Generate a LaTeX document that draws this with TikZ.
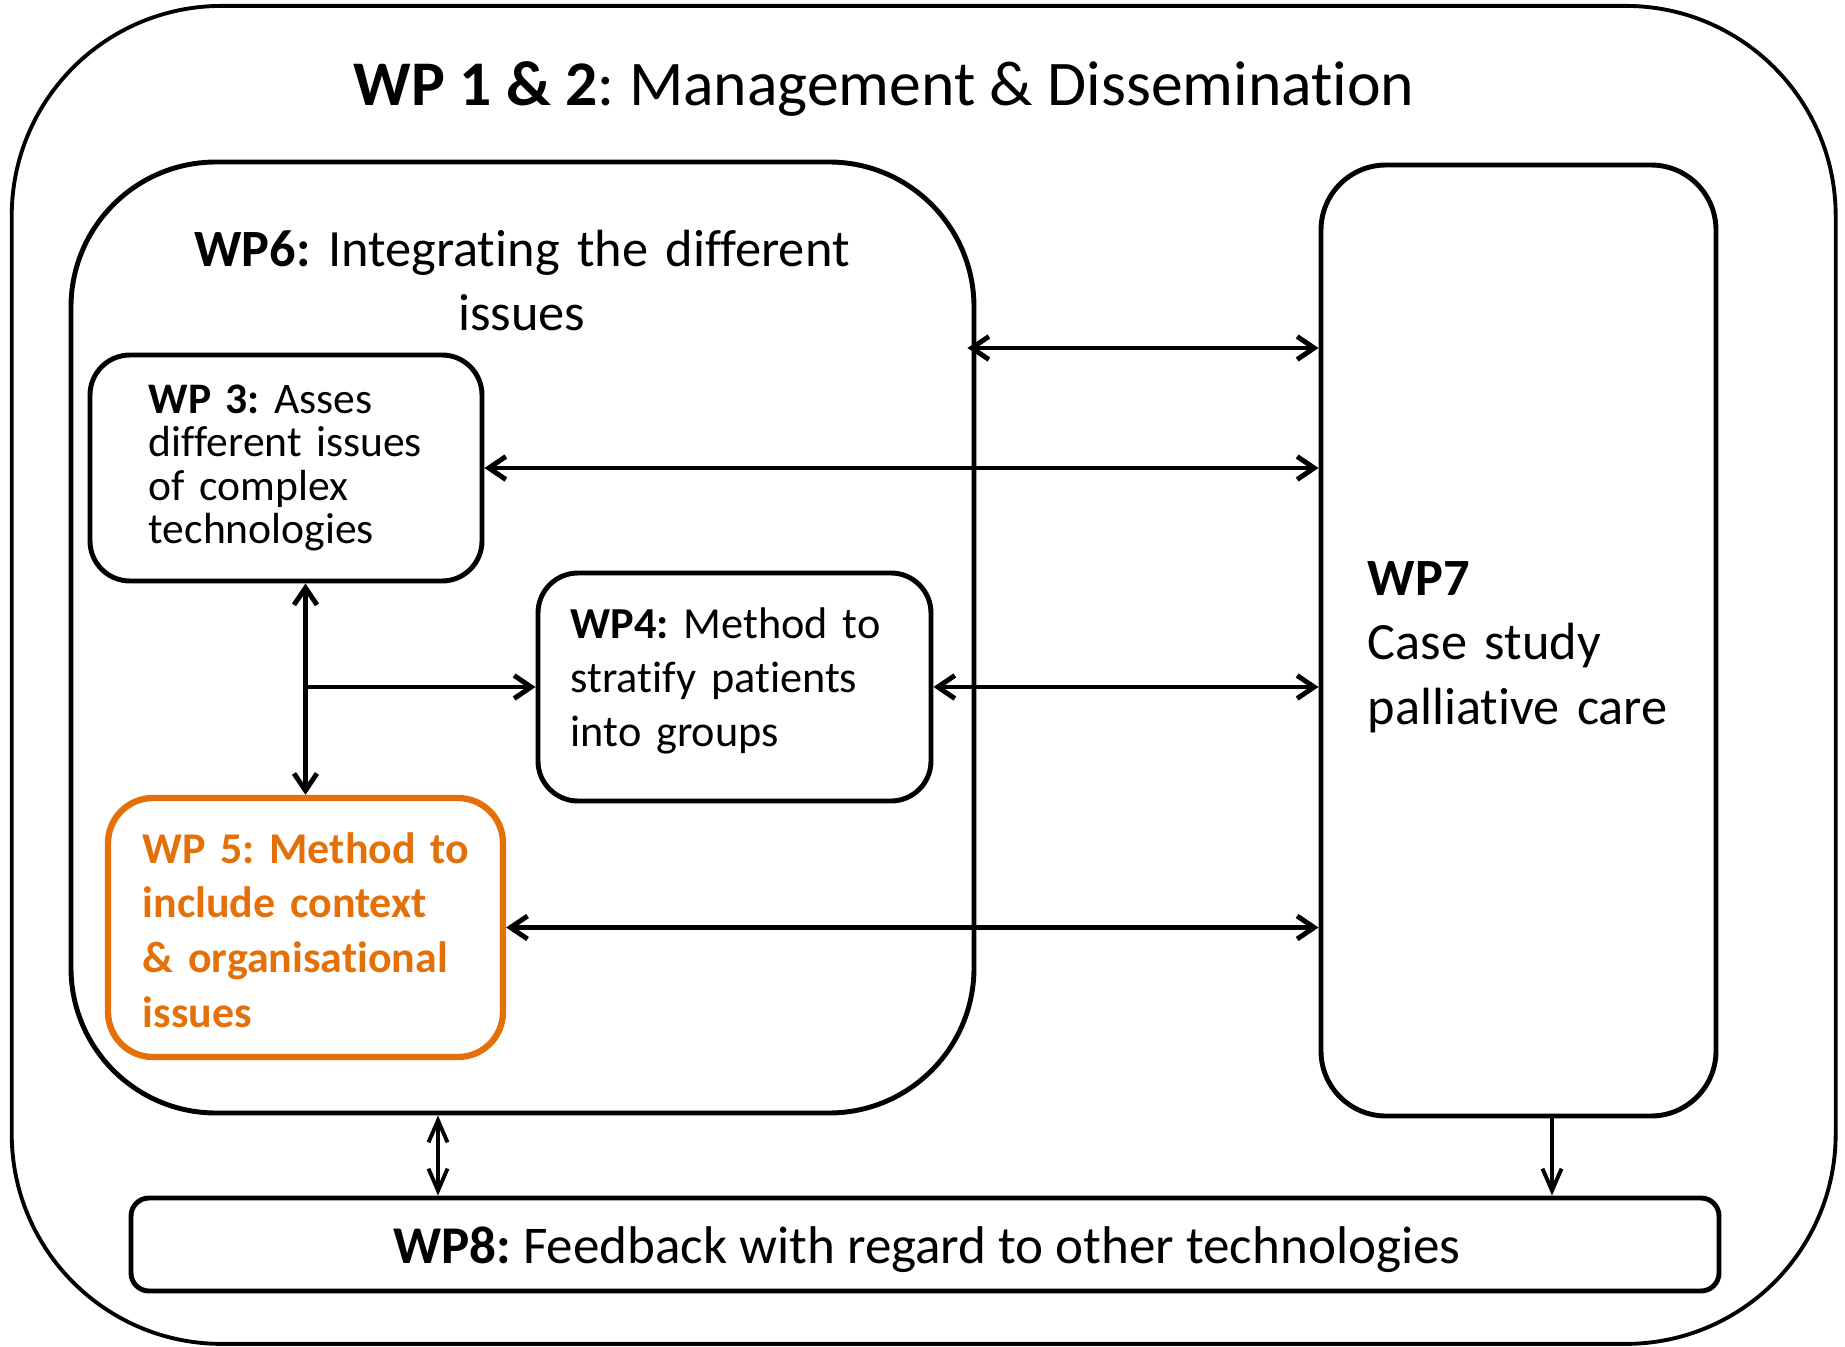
\documentclass[tikz,border=0pt]{standalone}
\usepackage{fontspec}
\setmainfont{Carlito}[Ligatures={NoCommon}]
\usetikzlibrary{arrows.meta, positioning}
\definecolor{wporange}{RGB}{228,112,10}
\frenchspacing

\begin{document}
\begin{tikzpicture}[
    x=0.1mm,
    y=-0.1mm,
    >={Straight Barb[length=1.7mm,width=2.3mm]},
    wpbox/.style={draw, line width=1.4pt, inner sep=0pt},
    wptext/.style={anchor=base west, inner sep=0pt, text width=45mm, align=left},
    link/.style={<->, line width=1.4pt},
    thinlink/.style={line width=1.1pt, >={Straight Barb[length=2.2mm,width=1.9mm]}},
]
    \useasboundingbox (0,0) rectangle (1845,1347);

    % frames
    \node[wpbox, line width=1.1pt, rounded corners=21mm,
          minimum width=182.4mm, minimum height=133.8mm] (wp12) at (923.7,674.9) {};
    \node[wpbox, rounded corners=14.5mm,
          minimum width=90.3mm, minimum height=95.1mm]   (wp6)  at (522.5,637.5) {};
    \node[wpbox, rounded corners=4mm,
          minimum width=39.2mm, minimum height=22.6mm]   (wp3)  at (286,468)     {};
    \node[wpbox, rounded corners=4mm,
          minimum width=39.3mm, minimum height=22.8mm]   (wp4)  at (734.5,687)   {};
    \node[wpbox, draw=wporange, line width=1.8pt, rounded corners=4.5mm,
          minimum width=39.5mm, minimum height=25.9mm]   (wp5)  at (305.5,927.5) {};
    \node[wpbox, rounded corners=6.5mm,
          minimum width=39.5mm, minimum height=95.1mm]   (wp7)  at (1518.5,640.5) {};
    \node[wpbox, rounded corners=1.8mm,
          minimum width=158.8mm, minimum height=9.3mm]   (wp8)  at (925,1244.5)  {};

    % texts
    \node[anchor=base, inner sep=0pt, font=\fontsize{18.1}{22}\selectfont]
        (wp12txt) at (884,106) {\textbf{WP 1 \& 2}: Management \& Dissemination};
    \node[anchor=base, inner sep=0pt, text width=80mm, align=center,
          font=\fontsize{14.9}{18}\selectfont]
        (wp6txt) at (522,267) {\textbf{WP6:} Integrating the different\\issues};
    \node[wptext, font=\fontsize{12.4}{12.4}\selectfont]
        (wp3txt) at (148,413) {\textbf{WP 3:} Asses\\different issues\\of complex\\technologies};
    \node[wptext, font=\fontsize{12.6}{15.4}\selectfont]
        (wp4txt) at (570,638) {\textbf{WP4:} Method to\\stratify patients\\into groups};
    \node[wptext, text=wporange, font=\fontsize{12.5}{15.6}\selectfont\bfseries]
        (wp5txt) at (142,863) {WP 5: Method to\\include context\\\& organisational\\issues};
    \node[wptext, font=\fontsize{14.9}{18.4}\selectfont]
        (wp7txt) at (1367,595) {\textbf{WP7}\\Case study\\palliative care};
    \node[anchor=base, inner sep=0pt, font=\fontsize{15.1}{18}\selectfont]
        (wp8txt) at (927,1263) {\textbf{WP8:} Feedback with regard to other technologies};

    % connectors
    \coordinate (toprow) at (0,348);
    \coordinate (fb6)    at (438,0);
    \coordinate (fb7)    at (1552,0);

    \draw[link] ([xshift=-0.9mm]wp6.east |- toprow) -- (wp7.west |- toprow);
    \draw[link] (wp3.east) -- (wp7.west |- wp3.east);
    \draw[link] (wp5.north |- wp3.south) -- (wp5.north);
    \draw[link, <-] (wp4.west) -- (wp5.north |- wp4.west);
    \draw[link] (wp4.east) -- (wp7.west |- wp4.east);
    \draw[link] (wp5.east) -- (wp7.west |- wp5.east);
    \draw[thinlink, <->] (fb6 |- wp6.south) -- (fb6 |- wp8.north);
    \draw[thinlink, ->]  (fb7 |- wp7.south) -- (fb7 |- wp8.north);
\end{tikzpicture}
\end{document}
